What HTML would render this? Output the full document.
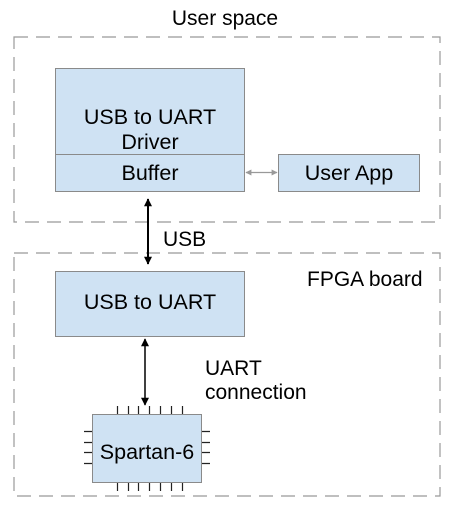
<!DOCTYPE html>
<html><head><style>body{margin:0;background:#fff}</style></head><body>
<svg width="455" height="521" xmlns="http://www.w3.org/2000/svg" font-family="Liberation Sans, sans-serif" fill="#000">
<defs>
<marker id="a" viewBox="0 0 10 10" refX="9" refY="5" markerWidth="14" markerHeight="8" orient="auto-start-reverse" markerUnits="userSpaceOnUse"><path d="M0,0L10,5L0,10z" fill="#000"/></marker>
<marker id="g" viewBox="0 0 10 10" refX="9" refY="5" markerWidth="8" markerHeight="6" orient="auto-start-reverse" markerUnits="userSpaceOnUse"><path d="M0,0L10,5L0,10z" fill="#999"/></marker>
</defs>
<g fill="none" stroke="#999" stroke-width="1.2" stroke-dasharray="14,8">
<rect x="14" y="37" width="426" height="185"/>
<rect x="14" y="253" width="426" height="243"/>
</g>
<text x="225" y="25" font-size="21" text-anchor="middle">User space</text>
<g fill="#cfe2f3" stroke="#8a8a8a" stroke-width="1">
<rect x="55.5" y="68.5" width="189" height="123"/>
<line x1="55.5" y1="154.5" x2="244.5" y2="154.5"/>
<rect x="278.5" y="154.5" width="141" height="37"/>
<rect x="55.5" y="271.5" width="189" height="65"/>
<rect x="92.5" y="414.5" width="109" height="68"/>
</g>
<g font-size="21.5" text-anchor="middle">
<text x="150" y="124">USB to UART</text>
<text x="150" y="149">Driver</text>
<text x="150" y="180">Buffer</text>
<text x="349" y="180">User App</text>
<text x="150" y="309">USB to UART</text>
<text x="147" y="459">Spartan-6</text>
</g>
<g font-size="21">
<text x="163" y="246">USB</text>
<text x="307" y="286">FPGA board</text>
<text x="205" y="375">UART</text>
<text x="205" y="399">connection</text>
</g>
<line x1="246" y1="172.5" x2="277" y2="172.5" stroke="#999" stroke-width="1.3" marker-start="url(#g)" marker-end="url(#g)"/>
<line x1="148" y1="199" x2="148" y2="264" stroke="#000" stroke-width="2" marker-start="url(#a)" marker-end="url(#a)"/>
<line x1="145" y1="339" x2="145" y2="405" stroke="#000" stroke-width="1.5" marker-start="url(#a)" marker-end="url(#a)"/>
<g stroke="#222" stroke-width="1.2">
<path d="M117.5 406v8M128.5 406v8M138.5 406v8M149.5 406v8M160.5 406v8M171.5 406v8M182.5 406v8"/>
<path d="M117.5 483v8M128.5 483v8M138.5 483v8M149.5 483v8M160.5 483v8M171.5 483v8M182.5 483v8"/>
<path d="M84 431.5h8M84 442.5h8M84 452.5h8M84 463.5h8M202 431.5h8M202 442.5h8M202 452.5h8M202 463.5h8"/>
</g>
</svg>
</body></html>
